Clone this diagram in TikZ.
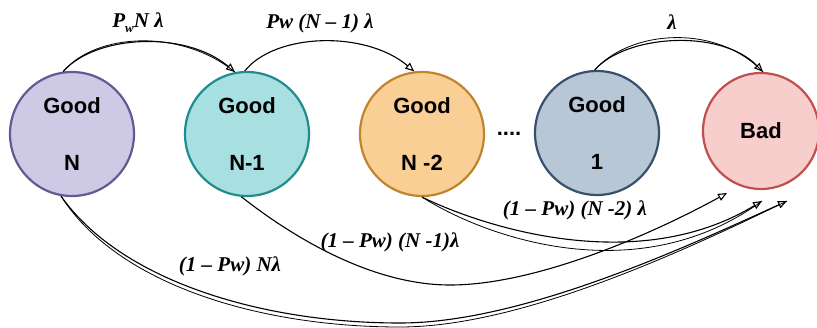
\documentclass[tikz,border=0pt]{standalone}
\usepackage{fontspec}
\setmainfont{Liberation Serif}
\newfontfamily\statefont{Liberation Sans}
\usetikzlibrary{arrows.meta}
\definecolor{nF}{RGB}{206,201,228}
\definecolor{nB}{RGB}{100,90,145}
\definecolor{aF}{RGB}{168,223,224}
\definecolor{aB}{RGB}{33,140,141}
\definecolor{bF}{RGB}{250,207,150}
\definecolor{bB}{RGB}{192,132,42}
\definecolor{cF}{RGB}{184,199,214}
\definecolor{cB}{RGB}{55,80,110}
\definecolor{dF}{RGB}{247,206,204}
\definecolor{dB}{RGB}{192,80,77}
\begin{document}
\begin{tikzpicture}[x=1pt,y=-1pt,
  state/.style={circle, minimum size=124pt, line width=2.2pt, inner sep=0pt,
    align=center, text=black, font=\statefont\bfseries\fontsize{22}{57}\selectfont},
  lbl/.style={font=\bfseries\itshape\fontsize{21}{21}\selectfont, inner sep=0pt},
  arr/.style={line width=1.1pt, -{Triangle[open,length=9pt,width=7.5pt]}},
  strand/.style={line width=0.8pt}]
\useasboundingbox (0,0) rectangle (817,327);

\node[state, draw=nB, fill=nF] (gN) at (72,134) {Good\\N};
\node[state, draw=aB, fill=aF] (gN1) at (247,134) {Good\\N-1};
\node[state, draw=bB, fill=bF] (gN2) at (422,134) {Good\\N -2};
\node[state, draw=cB, fill=cF] (g1) at (597,133) {Good\\1};
\node[state, draw=dB, fill=dF, minimum size=116pt] (bad) at (761,131) {Bad};
\node[font=\statefont\bfseries\fontsize{22}{22}\selectfont, inner sep=0pt] (dots) at (509,134) {....};

\coordinate (t1) at ([shift={(-34,62)}]bad.center);
\coordinate (t2) at ([shift={(1,70)}]bad.center);
\coordinate (t3) at ([shift={(26,70)}]bad.center);

% top transitions
\draw[strand] (gN.98) .. controls (97,32) and (182,29) .. (gN1.101);
\draw[arr] (gN.98) .. controls (95,35) and (185,30) .. (gN1.101);
\draw[arr] (gN1.92) .. controls (275,33) and (365,30) .. (gN2.97);
\draw[strand] (g1.92) .. controls (630,30) and (716,23) .. (bad.88);
\draw[arr] (g1.92) .. controls (625,35) and (720,28) .. (bad.88);

% bottom transitions
\draw[arr] (gN1.265) .. controls (290,235) and (370,285) .. (450,285)
  .. controls (540,285) and (660,230) .. (t1);
\draw[strand] (gN2.270) .. controls (490,240) and (640,290) .. (t2);
\draw[arr] (gN2.270) .. controls (490,230) and (640,275) .. (t2);
\draw[strand] (gN.260) .. controls (117,284) and (258,327) .. (400,327)
  .. controls (520,327) and (682,252) .. (t3);
\draw[arr] (gN.260) .. controls (120,280) and (260,323) .. (400,323)
  .. controls (520,323) and (680,250) .. (t3);

% labels
\node[lbl] (l1) at (138,23) {P\lower.25em\hbox{\fontsize{13}{13}\selectfont w}N λ};
\node[lbl] (l2) at (320,23) {Pw (N – 1) λ};
\node[lbl] (l3) at (672,22) {λ};
\node[lbl] (l4) at (575,210) {(1 – Pw) (N -2) λ};
\node[lbl] (l5) at (390,242) {(1 – Pw) (N -1)λ};
\node[lbl] (l6) at (230,266) {(1 – Pw) Nλ};
\end{tikzpicture}
\end{document}
